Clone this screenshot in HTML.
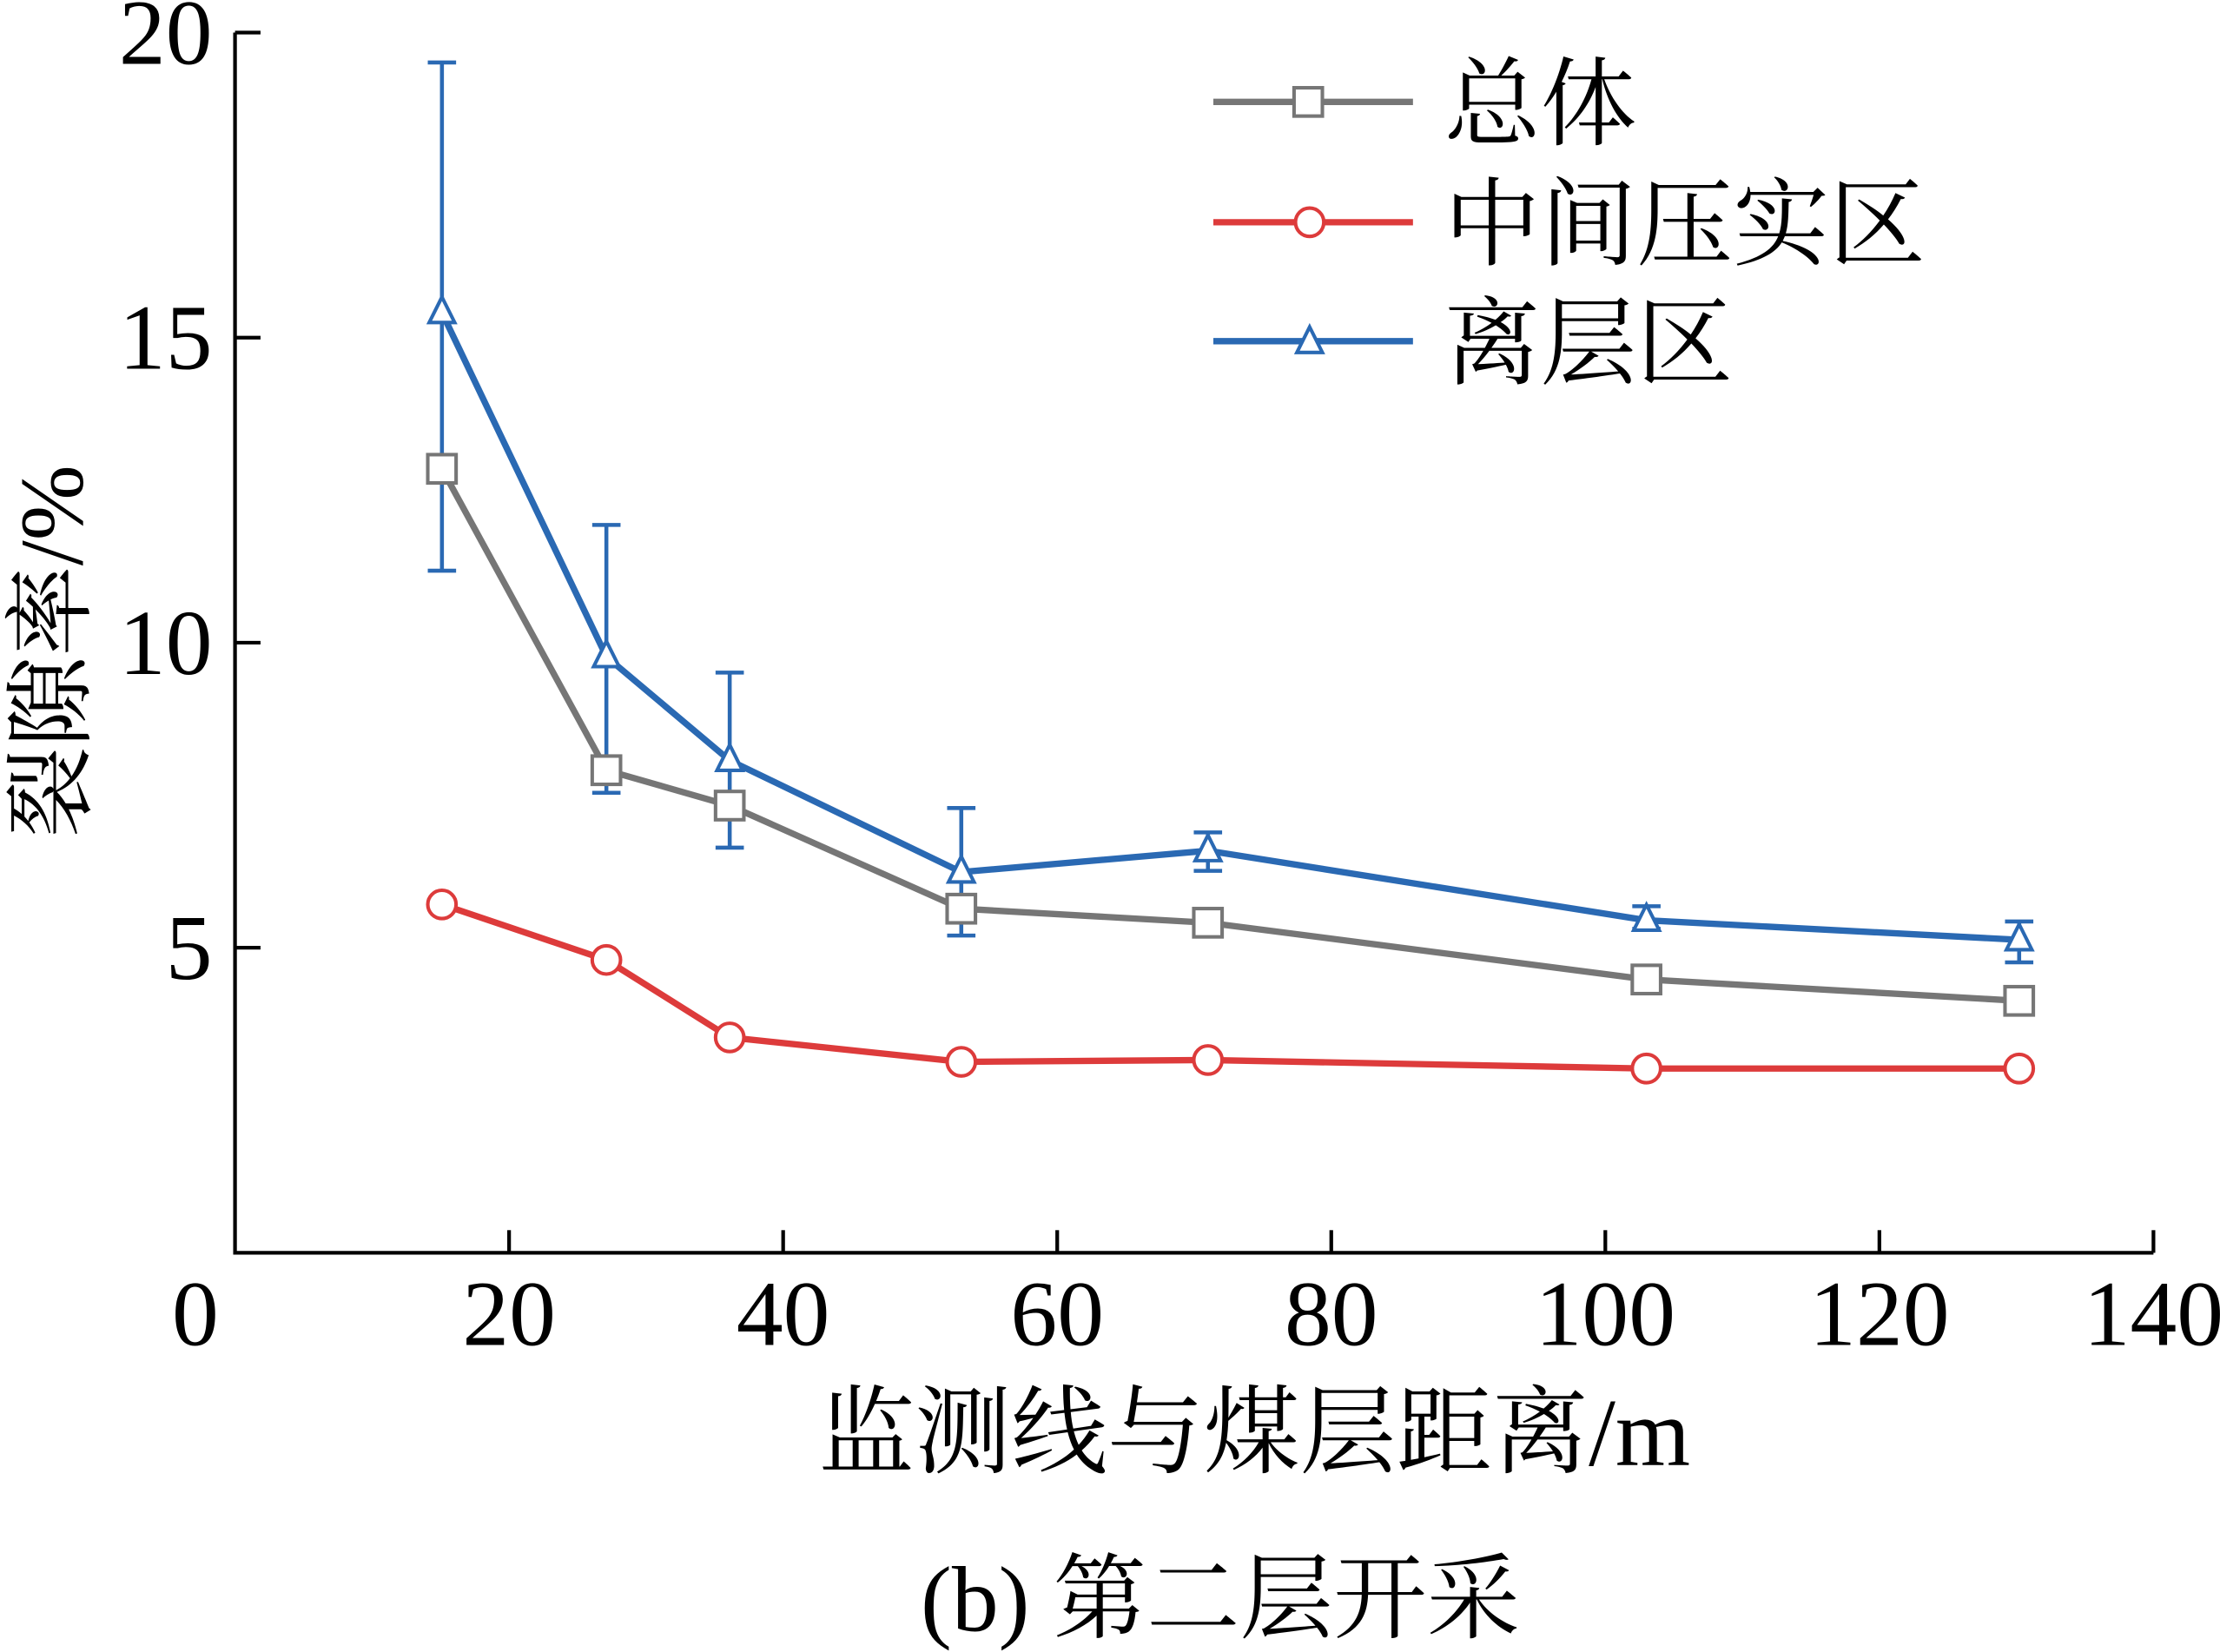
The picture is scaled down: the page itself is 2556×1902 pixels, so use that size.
<!DOCTYPE html>
<html><head><meta charset="utf-8"><style>html,body{margin:0;padding:0;background:#fff}svg{display:block}</style></head>
<body>
<svg id="chart" width="2556" height="1902" viewBox="0 0 1568 1167" preserveAspectRatio="none" xmlns="http://www.w3.org/2000/svg" font-family="'Liberation Serif','Noto Serif CJK SC',serif">
<g id="axes"></g>
<g id="marks"></g>
<g font-family="'Liberation Serif','Noto Serif CJK SC',serif">
  <g>
    <line x1="857" y1="72" x2="998" y2="72" stroke="#767676" stroke-width="4.5"/>
    <rect x="914" y="62" width="20" height="20" fill="#fff" stroke="#767676" stroke-width="2.5"/>
    <text x="1020" y="97" font-size="68">总体</text>
  </g>
  <g>
    <line x1="857" y1="157" x2="998" y2="157" stroke="#dd3b3b" stroke-width="4.5"/>
    <circle cx="925" cy="157" r="10" fill="#fff" stroke="#dd3b3b" stroke-width="2.5"/>
    <text x="1020" y="182" font-size="68">中间压实区</text>
  </g>
  <g>
    <line x1="857" y1="241" x2="998" y2="241" stroke="#2a69b3" stroke-width="4.5"/>
    <path d="M925 231 L934 249 L916 249 Z" fill="#fff" stroke="#2a69b3" stroke-width="2.5"/>
    <text x="1020" y="266" font-size="68">离层区</text>
  </g>
</g>
<text x="886" y="1035" font-size="68" text-anchor="middle">监测线与煤层距离/m</text>
<text transform="translate(58,460) rotate(-90)" font-size="64" text-anchor="middle">裂隙率/%</text>
<text x="862" y="1152" font-size="66" text-anchor="middle">(b) 第二层开采</text>
</svg>
<script>
const xs = [15.1, 27.1, 36.1, 53.0, 71.0, 103.0, 130.2];
const overall = [12.85, 7.91, 7.33, 5.64, 5.41, 4.48, 4.13];
const middle = [5.71, 4.80, 3.53, 3.13, 3.16, 3.02, 3.02];
const separation = [15.41, 9.77, 8.07, 6.24, 6.59, 5.45, 5.13];
const sepUpper = [19.51, 11.93, 9.51, 7.29, 6.89, 5.68, 5.43];
const sepLower = [11.18, 7.54, 6.64, 5.20, 6.26, 5.31, 4.76];
const xTicks = [0, 20, 40, 60, 80, 100, 120, 140];
const yTicks = [5, 10, 15, 20];

const NS = 'http://www.w3.org/2000/svg';
const X = v => 166 + (v / 140) * (1521 - 166);
const Y = v => 885 - (v / 20) * (885 - 23);
function mk(tag, attrs, parent) {
  const e = document.createElementNS(NS, tag);
  for (const k in attrs) e.setAttribute(k, attrs[k]);
  parent.appendChild(e);
  return e;
}
const axes = document.getElementById('axes');
const marks = document.getElementById('marks');
let el = mk('path', {d: `M166 ${Y(20)} L166 885 L1521 885`, fill: 'none', stroke: '#000', 'stroke-width': 2.6}, axes);


xTicks.forEach(t => {
  if (t > 0) {
    const l = mk('line', {x1: X(t), x2: X(t), y1: 885, y2: 869, stroke: '#000', 'stroke-width': 2.6}, axes);
    
    
  }
  const tx = mk('text', {x: t === 0 ? 138 : X(t), y: 950, 'font-size': 66, 'text-anchor': 'middle'}, axes);
  tx.textContent = t;
  
  
});
yTicks.forEach(t => {
  const l = mk('line', {x1: 166, x2: 184, y1: Y(t), y2: Y(t), stroke: '#000', 'stroke-width': 2.6}, axes);
  
  
  const tx = mk('text', {x: 150, y: Y(t) + 22, 'font-size': 66, 'text-anchor': 'end'}, axes);
  tx.textContent = t;
  
  
});
function line(vals, color, name) {
  const p = mk('polyline', {points: vals.map((v, i) => X(xs[i]) + ',' + Y(v)).join(' '), fill: 'none', stroke: color, 'stroke-width': 4.5}, marks);
  
  
}
line(overall, '#767676', 'overall-line');
line(middle, '#dd3b3b', 'middle-compaction-line');
line(separation, '#2a69b3', 'separation-line');
xs.forEach((x, i) => {
  const cx = X(x);
  const g = mk('g', {}, marks);
  
  
  mk('line', {x1: cx, x2: cx, y1: Y(sepUpper[i]), y2: Y(sepLower[i]), stroke: '#2a69b3', 'stroke-width': 2.8}, g);
  mk('line', {x1: cx - 10, x2: cx + 10, y1: Y(sepUpper[i]), y2: Y(sepUpper[i]), stroke: '#2a69b3', 'stroke-width': 2.8}, g);
  mk('line', {x1: cx - 10, x2: cx + 10, y1: Y(sepLower[i]), y2: Y(sepLower[i]), stroke: '#2a69b3', 'stroke-width': 2.8}, g);
});
xs.forEach((x, i) => {
  const cx = X(x);
  let m = mk('rect', {x: cx - 10, y: Y(overall[i]) - 10, width: 20, height: 20, fill: '#fff', stroke: '#767676', 'stroke-width': 2.5}, marks);
  
  
  m = mk('circle', {cx: cx, cy: Y(middle[i]), r: 10, fill: '#fff', stroke: '#dd3b3b', 'stroke-width': 2.5}, marks);
  
  
  const sy = Y(separation[i]);
  m = mk('path', {d: `M${cx} ${sy - 11} L${cx + 9} ${sy + 7} L${cx - 9} ${sy + 7} Z`, fill: '#fff', stroke: '#2a69b3', 'stroke-width': 2.5}, marks);
  
  
});
</script>
</body></html>
